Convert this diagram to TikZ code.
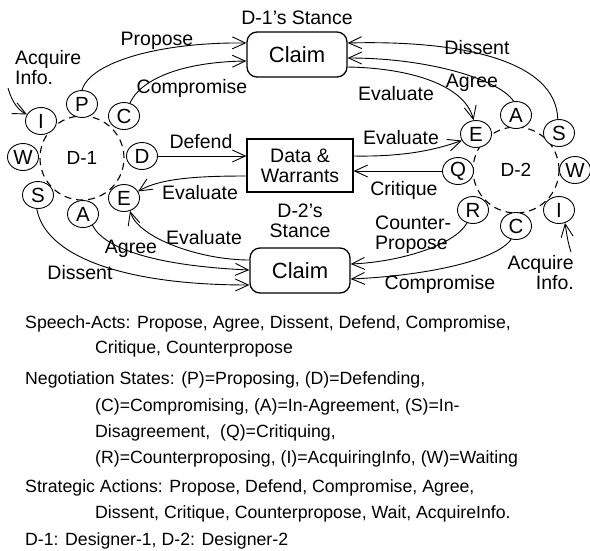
\documentclass[tikz,border=0pt]{standalone}
\usepackage{fontspec}
\setmainfont{Liberation Sans}
\usetikzlibrary{arrows.meta,shapes.geometric,calc}
\newcommand\lblfont{\fontsize{19.5}{20}\selectfont}
\begin{document}
\begin{tikzpicture}[x=1pt,y=-1pt,
  every node/.style={inner sep=0pt},
  lbl/.style={font=\lblfont, text height=14pt, text depth=0pt},
  mlbl/.style={font=\lblfont},
  state/.style={draw, ellipse, line width=0.9pt, fill=white, minimum width=31pt, minimum height=27pt, font=\fontsize{20.5}{21}\selectfont},
  ring/.style={draw, circle, line width=1.1pt, dash pattern=on 7pt off 5pt, font=\fontsize{19}{20}\selectfont},
  claimbox/.style={draw, rounded corners=10pt, line width=1.3pt, minimum width=100pt, minimum height=45pt, font=\fontsize{22}{24}\selectfont},
  dwbox/.style={draw, line width=1.3pt, minimum width=106pt, minimum height=53pt, align=center, font=\lblfont},
  arr/.style={line width=0.9pt, -{Straight Barb[length=13pt,width=12pt]}},
  captxt/.style={anchor=base west, font=\fontsize{17.7}{20}\selectfont}
]
\useasboundingbox (0,0) rectangle (590,550);

% rings
\node[ring, minimum size=84pt] (d1) at (82,158) {D-1};
\node[ring, minimum size=86pt] (d2) at (516,170) {D-2};

% D-1 states
\node[state] (d1P) at (82,104) {P};
\node[state] (d1C) at (124,116) {C};
\node[state] (d1D) at (142,156) {D};
\node[state] (d1E) at (124,198) {E};
\node[state] (d1A) at (83,214) {A};
\node[state] (d1S) at (38,195) {S};
\node[state] (d1W) at (23,157) {W};
\node[state] (d1I) at (41,121) {I};

% D-2 states
\node[state] (d2A) at (516,115) {A};
\node[state] (d2S) at (559,133) {S};
\node[state] (d2W) at (575,170) {W};
\node[state] (d2I) at (559,210) {I};
\node[state] (d2C) at (516,226) {C};
\node[state] (d2R) at (473,210) {R};
\node[state] (d2Q) at (458,171) {Q};
\node[state] (d2E) at (476,134) {E};

% boxes
\node[claimbox] (cl1) at (297,54.5) {Claim};
\node[claimbox] (cl2) at (300,270.5) {Claim};
\node[dwbox] (dw) at (300,165.5) {Data \&\\Warrants};

\node[lbl] (st1) at (297,17) {D-1’s Stance};
\node[mlbl, align=center] (st2) at (300,221) {D-2’s\\Stance};

% D-1 connectors
\draw[arr] (d1P.north) .. controls (90,62) and (160,42) .. ([yshift=11.5pt]cl1.west);
\draw[arr] (d1C.65) .. controls (140,80) and (180,62) .. ([yshift=-6.5pt]cl1.west);
\draw[arr] (d1D.east) -- (d1D.east -| dw.west);
\draw[arr] ([yshift=-10.5pt]dw.west) .. controls (200,176) and (160,178) .. (d1E.25);
\draw[arr] ([yshift=10.5pt]cl2.west) .. controls (200,260) and (138,238) .. (d1E.-65);
\draw[arr] (d1A.-50) .. controls (105,250) and (160,266) .. ([yshift=0.5pt]cl2.west);
\draw[arr] (d1S.-95) .. controls (45,255) and (120,285) .. ([yshift=-14.5pt]cl2.west);
\coordinate (a1s) at (8,88);
\draw[arr] (a1s) .. controls (12,102) and (18,110) .. (d1I.155);

% D-2 connectors
\draw[arr] (d2S.95) .. controls (556,60) and (460,40) .. ([yshift=11.5pt]cl1.east);
\draw[arr] (d2A.100) .. controls (500,80) and (430,58) .. ([yshift=-3.5pt]cl1.east);
\draw[arr] ([yshift=-12.5pt]cl1.east) .. controls (410,68) and (465,85) .. (d2E.100);
\draw[arr] ([yshift=9.5pt]dw.east) .. controls (410,157) and (440,148) .. (d2E.205);
\draw[arr] (d2Q.west) -- (d2Q.west -| dw.east);
\draw[arr] (d2R.-115) .. controls (455,245) and (400,262) .. ([yshift=6.5pt]cl2.east);
\draw[arr] (d2C.-110) .. controls (495,262) and (420,276) .. ([yshift=-8.5pt]cl2.east);
\coordinate (a2s) at (571,252);
\draw[arr] (a2s) .. controls (568,243) and (567,236) .. (d2I.-65);

% labels D-1 side
\node[lbl] (lpro) at (157,38) {Propose};
\node[lbl] (lcom1) at (192,86) {Compromise};
\node[lbl] (ldef) at (201,141) {Defend};
\node[lbl] (lev1) at (200,192) {Evaluate};
\node[lbl] (lev2) at (204,237) {Evaluate};
\node[lbl] (lagr1) at (131,246) {Agree};
\node[lbl] (ldis1) at (80,272) {Dissent};
\node[mlbl, align=left, anchor=west] (lacq1) at (15,68) {Acquire\\Info.};

% labels D-2 side
\node[lbl] (ldis2) at (477,47) {Dissent};
\node[lbl] (lagr2) at (472,80) {Agree};
\node[lbl] (lev3) at (396,93) {Evaluate};
\node[lbl] (lev4) at (401,137) {Evaluate};
\node[lbl] (lcri) at (404,188) {Critique};
\node[mlbl, align=left, anchor=west] (lcp) at (375,235) {Counter-\\Propose};
\node[lbl] (lcom2) at (440,282) {Compromise};
\node[mlbl, align=right, anchor=east] (lacq2) at (574,272.5) {Acquire\\Info.};

% caption
\node[captxt] (t1) at (25,328) {Speech-Acts: Propose, Agree, Dissent, Defend, Compromise,};
\node[captxt] (t2) at (95,353) {Critique, Counterpropose};
\node[captxt] (t3) at (25,384) {Negotiation States: (P)=Proposing, (D)=Defending,};
\node[captxt] (t4) at (95,411) {(C)=Compromising, (A)=In-Agreement, (S)=In-};
\node[captxt] (t5) at (95,437) {Disagreement,\ \ (Q)=Critiquing,};
\node[captxt] (t6) at (95,463) {(R)=Counterproposing, (I)=AcquiringInfo, (W)=Waiting};
\node[captxt] (t7) at (25,492) {Strategic Actions: Propose, Defend, Compromise, Agree,};
\node[captxt] (t8) at (95,518) {Dissent, Critique, Counterpropose, Wait, AcquireInfo.};
\node[captxt] (t9) at (25,545.5) {D-1: Designer-1, D-2: Designer-2};
\end{tikzpicture}
\end{document}
